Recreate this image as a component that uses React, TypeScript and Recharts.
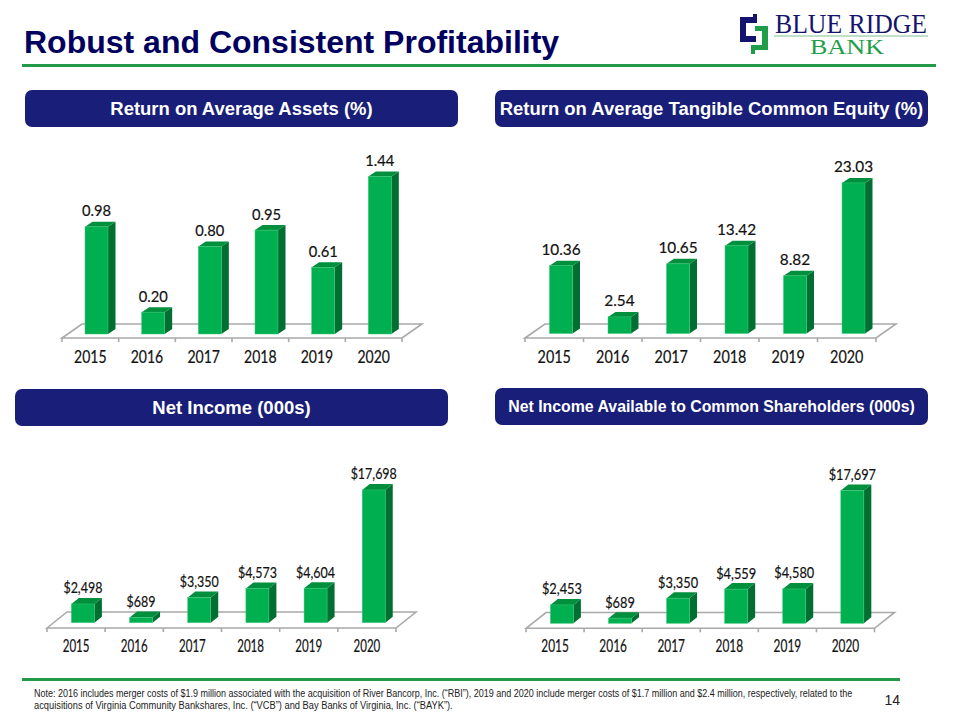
import { BarChart, Bar, XAxis, YAxis, LabelList } from "recharts";

const years = ["2015", "2016", "2017", "2018", "2019", "2020"];
const roaValues = [0.98, 0.2, 0.8, 0.95, 0.61, 1.44];
const rotceValues = [10.36, 2.54, 10.65, 13.42, 8.82, 23.03];
const netIncomeValues = [2498, 689, 3350, 4573, 4604, 17698];
const commonIncomeValues = [2453, 689, 3350, 4559, 4580, 17697];

const NAVY = "#191e78";
const GREEN_LINE = "#23994a";
const FONT = "Lato, sans-serif";
const ARIAL = "'Liberation Sans', Arial, sans-serif";

const money = (v: number) => "$" + v.toLocaleString("en-US");
const twoDp = (v: number) => v.toFixed(2);

// floor box of the fake 3D chart, in page pixels
const panels = [
  {
    values: roaValues, format: twoDp, max: 1.6,
    chartLeft: 0, chartTop: 130, x0: 62, x1: 402, baseline: 334, plotTop: 159,
    floorFront: 338, floorBack: 324, floorDx: 20,
    depthX: 7.5, depthY: 5, shift: 6, labelScale: 0.92, tickScale: 0.85, tickY: 362.5,
  },
  {
    values: rotceValues, format: twoDp, max: 25,
    chartLeft: 480, chartTop: 130, x0: 525, x1: 876, baseline: 333.5, plotTop: 170,
    floorFront: 338, floorBack: 324, floorDx: 20,
    depthX: 7.5, depthY: 5, shift: 6.5, labelScale: 0.96, tickScale: 0.87, tickY: 362.5,
  },
  {
    values: netIncomeValues, format: money, max: 20000,
    chartLeft: 0, chartTop: 440, x0: 47, x1: 396, baseline: 622.7, plotTop: 472.7,
    floorFront: 628, floorBack: 612, floorDx: 20,
    depthX: 7.5, depthY: 6, shift: 6.4, labelScale: 0.78, tickScale: 0.7, tickY: 652,
  },
  {
    values: commonIncomeValues, format: money, max: 20000,
    chartLeft: 480, chartTop: 440, x0: 526, x1: 874.5, baseline: 623.3, plotTop: 473.3,
    floorFront: 628.3, floorBack: 612.5, floorDx: 20,
    depthX: 7.5, depthY: 6, shift: 6.4, labelScale: 0.8, tickScale: 0.72, tickY: 652,
  },
];

const headers = [
  { text: "Return on Average Assets (%)", left: 25, top: 90, size: 18.45 },
  { text: "Return on Average Tangible Common Equity (%)", left: 495, top: 90, size: 18.45 },
  { text: "Net Income (000s)", left: 15, top: 389, size: 18.5 },
  { text: "Net Income Available to Common Shareholders (000s)", left: 495, top: 388, size: 15.85 },
];

const CHART_W = 480;
const CHART_H = 250;
const AXIS_H = 30;

function Panel({ p }: { p: (typeof panels)[number] }) {
  const data = years.map((year, i) => ({ year, value: p.values[i] }));
  const step = (p.x1 - p.x0) / years.length;
  const ox = p.chartLeft;
  const oy = p.chartTop;
  const fx0 = p.x0 - ox;
  const fx1 = p.x1 - ox;
  const fy = p.floorFront - oy;
  const by = p.floorBack - oy;
  const floorColor = "#a9a9a9";

  const shape = (props: any) => {
    const { x, y, width, height } = props;
    const l = x + p.shift;
    const r = l + width;
    const b = y + height;
    const dx = p.depthX;
    const dy = p.depthY;
    return (
      <g>
        <polygon points={`${r},${y} ${r + dx},${y - dy} ${r + dx},${b - dy} ${r},${b}`} fill="#006f31" />
        <polygon points={`${l},${y} ${l + dx},${y - dy} ${r + dx},${y - dy} ${r},${y}`} fill="#008f3d" />
        <rect x={l} y={y} width={width} height={height} fill="#00b050" stroke="#3cc878" strokeWidth={0.5} />
      </g>
    );
  };

  const valueLabel = (props: any) => {
    const { x, y, width, value } = props;
    return (
      <text
        transform={`translate(${x + width / 2 + p.shift},${y - 10.5}) scale(${p.labelScale},1)`}
        textAnchor="middle"
        fontFamily={FONT}
        fontSize={16}
        fill="#111"
        stroke="#111"
        strokeWidth={0.2}
      >
        {p.format(value)}
      </text>
    );
  };

  const yearTick = (props: any) => {
    const { x, payload } = props;
    return (
      <text
        transform={`translate(${x},${p.tickY - oy}) scale(${p.tickScale},1)`}
        textAnchor="middle"
        fontFamily={FONT}
        fontSize={16.5}
        fill="#111"
        stroke="#111"
        strokeWidth={0.2}
      >
        {payload.value}
      </text>
    );
  };

  return (
    <div style={{ position: "absolute", left: ox, top: oy }}>
      <BarChart
        width={CHART_W}
        height={CHART_H}
        data={data}
        margin={{
          left: fx0,
          right: CHART_W - fx1,
          top: p.plotTop - oy,
          bottom: CHART_H - (p.baseline - oy) - AXIS_H,
        }}
      >
        <g fill="none" stroke={floorColor} strokeWidth={1.6}>
          <path d={`M${fx0},${fy} L${fx0 + p.floorDx},${by} L${fx1 + p.floorDx},${by} L${fx1},${fy} Z`} />
          {years.map((_, i) => (
            <line key={i} x1={fx0 + step * i} x2={fx0 + step * i} y1={fy} y2={fy + 4} />
          ))}
          <line x1={fx1} x2={fx1} y1={fy} y2={fy + 4} />
        </g>
        <XAxis dataKey="year" height={AXIS_H} axisLine={false} tickLine={false} interval={0} tick={yearTick} />
        <YAxis hide domain={[0, p.max]} />
        <Bar dataKey="value" barSize={23} shape={shape} isAnimationActive={false}>
          <LabelList dataKey="value" content={valueLabel} />
        </Bar>
      </BarChart>
    </div>
  );
}

function Logo() {
  return (
    <div style={{ position: "absolute", left: 0, top: 0 }}>
      <svg width={960} height={64} style={{ display: "block" }}>
        <polygon
          points="753,14 757,14 757,23 746,23 746,36 756,36 756,42 740,42 740,17 753,17"
          fill="#14146e"
        />
        <polygon
          points="755,26 768,26 768,50 755,50 755,54 751,54 751,45 762,45 762,31 755,31"
          fill="#1f9e4a"
        />
        <text x={775} y={33} fontFamily="'Liberation Serif', serif" fontSize={27} fill="#14146e" textLength={152} lengthAdjust="spacingAndGlyphs">
          BLUE RIDGE
        </text>
        <line x1={774} x2={928} y1={36} y2={36} stroke="#7fbf95" strokeWidth={1} />
        <text x={810} y={54} fontFamily="'Liberation Serif', serif" fontSize={21} fill="#1f9e4a" textLength={74} lengthAdjust="spacingAndGlyphs">
          BANK
        </text>
      </svg>
    </div>
  );
}

export default function App() {
  return (
    <div style={{ position: "absolute", left: 0, top: 0, width: 960, height: 720, background: "#fff", overflow: "hidden", fontFamily: ARIAL }}>
      <div style={{ position: "absolute", left: 24, top: 23, fontSize: 32, lineHeight: "38px", fontWeight: 700, color: "#00005f", whiteSpace: "nowrap" }}>
        Robust and Consistent Profitability
      </div>
      <Logo />
      <div style={{ position: "absolute", left: 22, top: 64, width: 914, height: 2.5, background: GREEN_LINE }} />

      {headers.map((h) => (
        <div
          key={h.text}
          style={{
            position: "absolute", left: h.left, top: h.top, width: 433, height: 37, borderRadius: 7,
            background: NAVY, color: "#fff", fontSize: h.size, fontWeight: 700, lineHeight: "38px",
            textAlign: "center", whiteSpace: "nowrap",
          }}
        >
          {h.text}
        </div>
      ))}

      {panels.map((p, i) => (
        <Panel key={i} p={p} />
      ))}

      <div style={{ position: "absolute", left: 22, top: 678, width: 878, height: 2.5, background: GREEN_LINE }} />
      <div style={{ position: "absolute", left: 34, top: 688, fontSize: 10, lineHeight: "12px", color: "#222", whiteSpace: "nowrap", transform: "scaleX(0.9)", transformOrigin: "left" }}>
        Note: 2016 includes merger costs of $1.9 million associated with the acquisition of River Bancorp, Inc. (“RBI”), 2019 and 2020 include merger costs of $1.7 million and $2.4 million, respectively, related to the
      </div>
      <div style={{ position: "absolute", left: 34, top: 699.5, fontSize: 10, lineHeight: "12px", color: "#222", whiteSpace: "nowrap", transform: "scaleX(0.93)", transformOrigin: "left" }}>
        acquisitions of Virginia Community Bankshares, Inc. (“VCB”) and Bay Banks of Virginia, Inc. (“BAYK”).
      </div>
      <div style={{ position: "absolute", left: 880, width: 20, top: 692, fontSize: 14, lineHeight: "16px", color: "#222", textAlign: "right" }}>14</div>
    </div>
  );
}
